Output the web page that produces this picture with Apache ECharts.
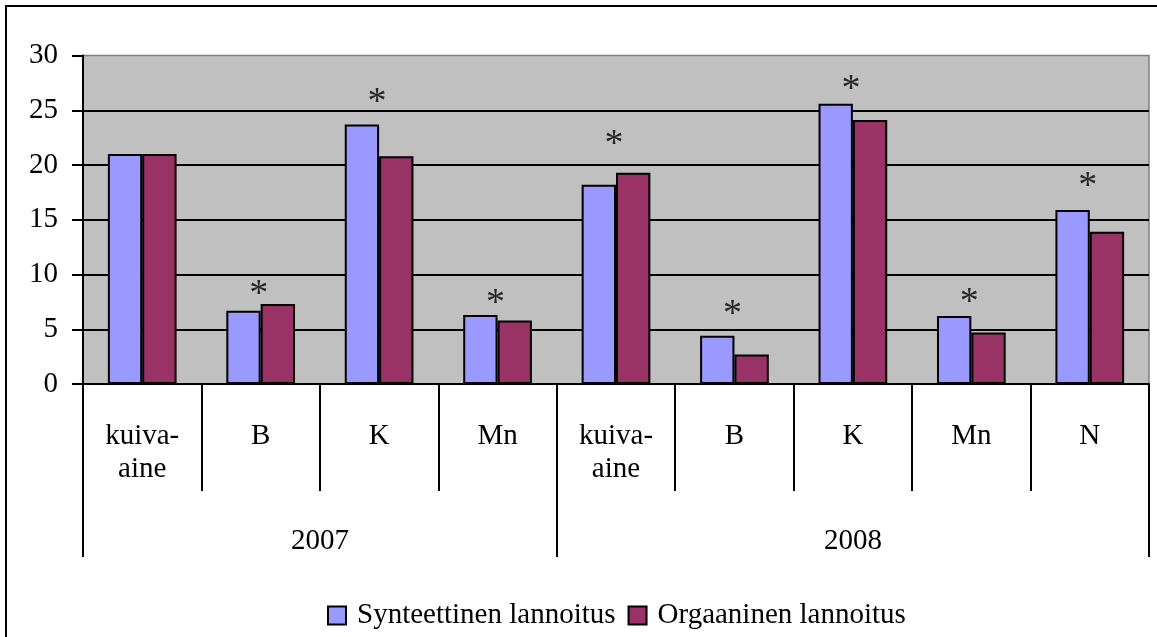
<!DOCTYPE html>
<html>
<head>
<meta charset="utf-8">
<script src="https://cdn.jsdelivr.net/npm/echarts@6/dist/echarts.min.js"></script>
<style>
html,body{margin:0;padding:0;background:#fff;}
#chart{width:1157px;height:637px;}
</style>
</head>
<body>
<div id="chart"></div>
<script>
// ---- data ----
const categories = ['kuiva-\naine', 'B', 'K', 'Mn', 'kuiva-\naine', 'B', 'K', 'Mn', 'N'];
const groups = ['2007', '2008'];
const groupSizes = [4, 5];
const seriesNames = ['Synteettinen lannoitus', 'Orgaaninen lannoitus'];
const synteettinen = [21.0, 6.7, 23.7, 6.3, 18.2, 4.4, 25.6, 6.2, 15.9];
const orgaaninen = [21.0, 7.3, 20.8, 5.8, 19.3, 2.7, 24.1, 4.7, 13.9];
// significance asterisks (height at which the * is drawn); '-' = none
const asteriskY = ['-', 8.9, 26.4, 8.0, 22.6, 7.0, 27.6, 8.1, 18.7];
const yTicks = {min: 0, max: 30, interval: 5};

// group boundaries / centres derived from group sizes
const bounds = [0];
groupSizes.forEach(s => bounds.push(bounds[bounds.length - 1] + s));
const centres = groups.map((g, i) => (bounds[i] + bounds[i + 1]) / 2);

const FONT = '"Liberation Serif", "Times New Roman", serif';
const chart = echarts.init(document.getElementById('chart'));
chart.setOption({
  animation: false,
  backgroundColor: '#fff',
  graphic: [{
    type: 'rect', silent: true,
    shape: {x: 6, y: 6, width: 1300, height: 800},
    style: {fill: 'none', stroke: '#000', lineWidth: 2}
  }],
  grid: {
    left: 83, right: 8, top: 55.5, bottom: 253,
    show: true, backgroundColor: '#c0c0c0', borderColor: '#808080', borderWidth: 1.5
  },
  legend: {
    left: 322, top: 596,
    itemWidth: 18, itemHeight: 18, itemGap: 12,
    icon: 'rect',
    itemStyle: {borderColor: '#000', borderWidth: 2},
    textStyle: {fontFamily: FONT, fontSize: 29, color: '#000', padding: [0, 0, 0, 6]},
    data: seriesNames
  },
  xAxis: [{
    type: 'category',
    data: categories,
    axisLine: {show: true, lineStyle: {color: '#000', width: 2}},
    axisTick: {show: true, interval: 0, length: 107, lineStyle: {color: '#000', width: 2}},
    axisLabel: {interval: 0, margin: 36, fontFamily: FONT, fontSize: 29, lineHeight: 33, color: '#000'},
    splitLine: {show: false}
  }, {
    type: 'value',
    position: 'bottom',
    min: 0, max: bounds[bounds.length - 1],
    axisLine: {show: false},
    axisTick: {show: true, customValues: bounds, length: 173, lineStyle: {color: '#000', width: 2}},
    axisLabel: {
      customValues: centres, margin: 143,
      fontFamily: FONT, fontSize: 29, color: '#000',
      formatter: v => { const i = centres.indexOf(v); return i >= 0 ? groups[i] : ''; }
    },
    splitLine: {show: false}
  }],
  yAxis: {
    type: 'value',
    min: yTicks.min, max: yTicks.max, interval: yTicks.interval,
    axisLine: {show: true, lineStyle: {color: '#000', width: 2}},
    axisTick: {show: true, length: 11, lineStyle: {color: '#000', width: 2}},
    axisLabel: {margin: 25, fontFamily: FONT, fontSize: 29, color: '#000'},
    splitLine: {show: true, showMaxLine: false, showMinLine: false, lineStyle: {color: '#000', width: 2}}
  },
  series: [{
    name: seriesNames[0], type: 'bar', data: synteettinen,
    barGap: '0%', barCategoryGap: '42%',
    itemStyle: {color: '#9999ff', borderColor: '#000', borderWidth: 2}
  }, {
    name: seriesNames[1], type: 'bar', data: orgaaninen,
    barGap: '0%', barCategoryGap: '42%',
    itemStyle: {color: '#993366', borderColor: '#000', borderWidth: 2}
  }, {
    name: 'asterisk', type: 'scatter', data: asteriskY,
    symbolSize: 1, itemStyle: {color: 'rgba(0,0,0,0)'},
    label: {show: true, position: 'inside', formatter: '*', fontFamily: FONT, fontSize: 38, color: '#000', offset: [-2, 8]},
    silent: true, z: 5
  }]
});
</script>
</body>
</html>
